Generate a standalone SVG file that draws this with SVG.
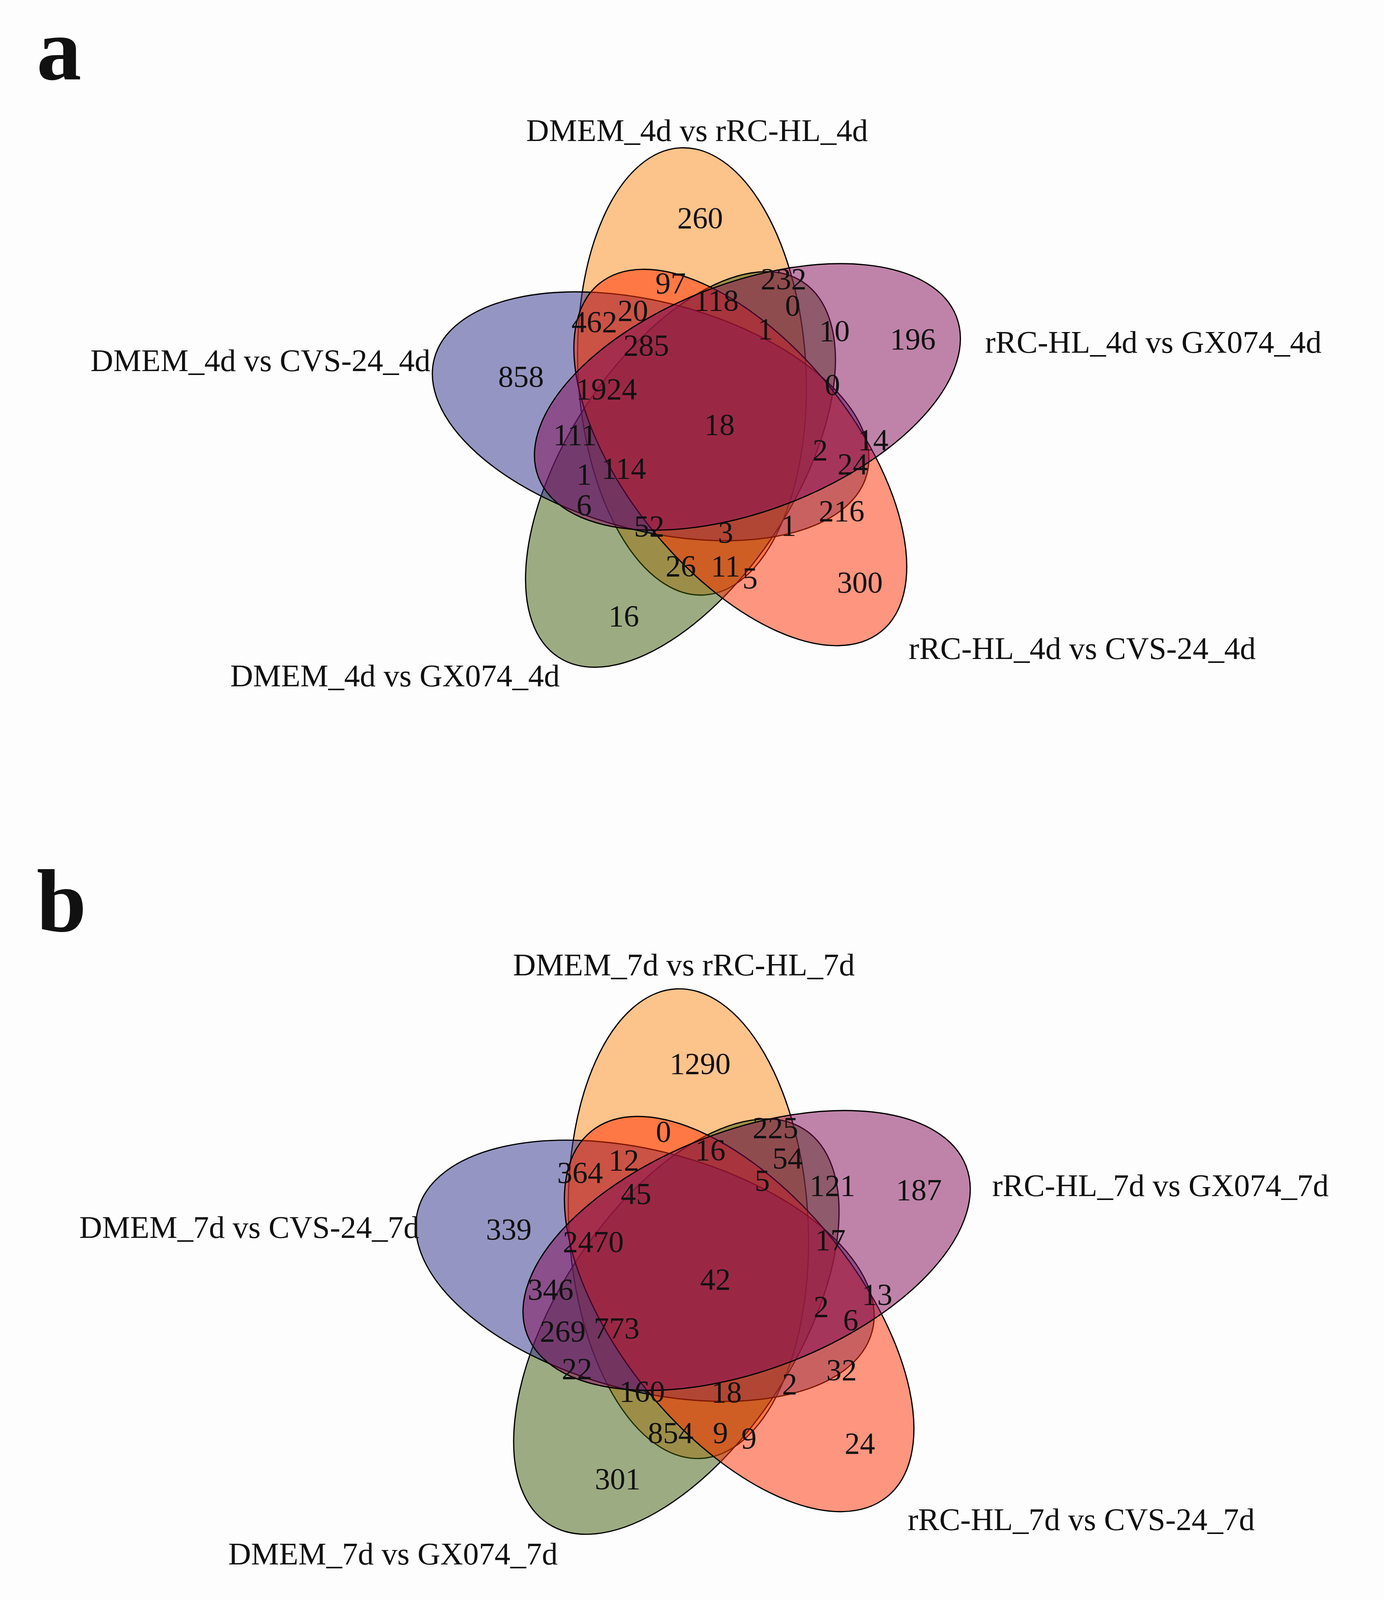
<svg xmlns="http://www.w3.org/2000/svg" width="3543" height="4112" viewBox="0 0 3543 4112">
<style>
.e{stroke:#000;stroke-width:1.2;fill-opacity:0.5}
.o{fill:#FB8919}.p{fill:#810955}.r{fill:#FF2D00}.g{fill:#3B5905}.b{fill:#2D2D89}
text{font-family:"Liberation Serif","Times New Roman",serif;fill:#111}
.n{font-size:30px;text-anchor:middle;dominant-baseline:central}
.l{font-size:31px;dominant-baseline:central}
.big{font-size:88px;font-weight:bold}
</style>
<rect width="3543" height="4112" fill="#FDFDFD"/>
<g transform="scale(2.6051)">
<text class="big" x="36" y="78">a</text>
<text class="big" x="36" y="915">b</text>
<g id="vennA">
<g id="setA1"><ellipse class="e o" cx="680" cy="365" rx="112" ry="220" transform="rotate(0 690 415) rotate(-3 680 365)"/></g>
<g id="setA4"><ellipse class="e g" cx="680" cy="365" rx="112" ry="220" transform="rotate(216 690 415) rotate(-3 680 365)"/></g>
<g id="setA5"><ellipse class="e b" cx="680" cy="365" rx="112" ry="220" transform="rotate(288 690 415) rotate(-3 680 365)"/></g>
<g id="setA3"><ellipse class="e r" cx="680" cy="365" rx="112" ry="220" transform="rotate(144 690 415) rotate(-3 680 365)"/></g>
<g id="setA2"><ellipse class="e p" cx="680" cy="365" rx="112" ry="220" transform="rotate(72 690 415) rotate(-3 680 365)"/></g>
<text class="l" x="685" y="128" text-anchor="middle">DMEM_4d vs rRC-HL_4d</text>
<text class="l" x="968" y="336">rRC-HL_4d vs GX074_4d</text>
<text class="l" x="423" y="354" text-anchor="end">DMEM_4d vs CVS-24_4d</text>
<text class="l" x="893" y="637">rRC-HL_4d vs CVS-24_4d</text>
<text class="l" x="550" y="664" text-anchor="end">DMEM_4d vs GX074_4d</text>
<text class="n" x="688" y="214">260</text><text class="n" x="659" y="278">97</text>
<text class="n" x="770" y="274">232</text><text class="n" x="704" y="295">118</text>
<text class="n" x="779" y="300">0</text><text class="n" x="584" y="316">462</text>
<text class="n" x="622" y="305">20</text><text class="n" x="752" y="323">1</text>
<text class="n" x="820" y="325">10</text><text class="n" x="897" y="333">196</text>
<text class="n" x="512" y="370">858</text><text class="n" x="635" y="339">285</text>
<text class="n" x="596" y="382">1924</text><text class="n" x="818" y="378">0</text>
<text class="n" x="707" y="417">18</text><text class="n" x="565" y="427">111</text>
<text class="n" x="858" y="432">14</text><text class="n" x="806" y="442">2</text>
<text class="n" x="838" y="456">24</text><text class="n" x="574" y="466">1</text>
<text class="n" x="613" y="460">114</text><text class="n" x="574" y="496">6</text>
<text class="n" x="827" y="502">216</text><text class="n" x="638" y="517">52</text>
<text class="n" x="713" y="523">3</text><text class="n" x="775" y="516">1</text>
<text class="n" x="669" y="556">26</text><text class="n" x="713" y="556">11</text>
<text class="n" x="737" y="568">5</text><text class="n" x="845" y="572">300</text>
<text class="n" x="613" y="605">16</text>
</g>
<g id="vennB">
<g id="setB1"><ellipse class="e o" cx="676.5" cy="1202.5" rx="117.6" ry="231" transform="rotate(0 687 1255) rotate(-3 676.5 1202.5)"/></g>
<g id="setB4"><ellipse class="e g" cx="676.5" cy="1202.5" rx="117.6" ry="231" transform="rotate(216 687 1255) rotate(-3 676.5 1202.5)"/></g>
<g id="setB5"><ellipse class="e b" cx="676.5" cy="1202.5" rx="117.6" ry="231" transform="rotate(288 687 1255) rotate(-3 676.5 1202.5)"/></g>
<g id="setB3"><ellipse class="e r" cx="676.5" cy="1202.5" rx="117.6" ry="231" transform="rotate(144 687 1255) rotate(-3 676.5 1202.5)"/></g>
<g id="setB2"><ellipse class="e p" cx="676.5" cy="1202.5" rx="117.6" ry="231" transform="rotate(72 687 1255) rotate(-3 676.5 1202.5)"/></g>
<text class="l" x="672" y="948" text-anchor="middle">DMEM_7d vs rRC-HL_7d</text>
<text class="l" x="975" y="1165">rRC-HL_7d vs GX074_7d</text>
<text class="l" x="412" y="1206" text-anchor="end">DMEM_7d vs CVS-24_7d</text>
<text class="l" x="892" y="1493">rRC-HL_7d vs CVS-24_7d</text>
<text class="l" x="548" y="1527" text-anchor="end">DMEM_7d vs GX074_7d</text>
<text class="n" x="688" y="1045">1290</text><text class="n" x="652" y="1112">0</text>
<text class="n" x="762" y="1108">225</text><text class="n" x="698" y="1130">16</text>
<text class="n" x="774" y="1138">54</text><text class="n" x="570" y="1152">364</text>
<text class="n" x="613" y="1140">12</text><text class="n" x="749" y="1160">5</text>
<text class="n" x="818" y="1165">121</text><text class="n" x="903" y="1169">187</text>
<text class="n" x="625" y="1173">45</text><text class="n" x="500" y="1208">339</text>
<text class="n" x="583" y="1220">2470</text><text class="n" x="816" y="1218">17</text>
<text class="n" x="703" y="1257">42</text><text class="n" x="541" y="1267">346</text>
<text class="n" x="862" y="1272">13</text><text class="n" x="807" y="1284">2</text>
<text class="n" x="836" y="1297">6</text><text class="n" x="553" y="1308">269</text>
<text class="n" x="606" y="1305">773</text><text class="n" x="567" y="1345">22</text>
<text class="n" x="827" y="1346">32</text><text class="n" x="631" y="1367">160</text>
<text class="n" x="714" y="1368">18</text><text class="n" x="776" y="1360">2</text>
<text class="n" x="659" y="1408">854</text><text class="n" x="708" y="1408">9</text>
<text class="n" x="736" y="1413">9</text><text class="n" x="845" y="1418">24</text>
<text class="n" x="607" y="1453">301</text>
</g>
<g id="connectors"/>
</g>
</svg>
